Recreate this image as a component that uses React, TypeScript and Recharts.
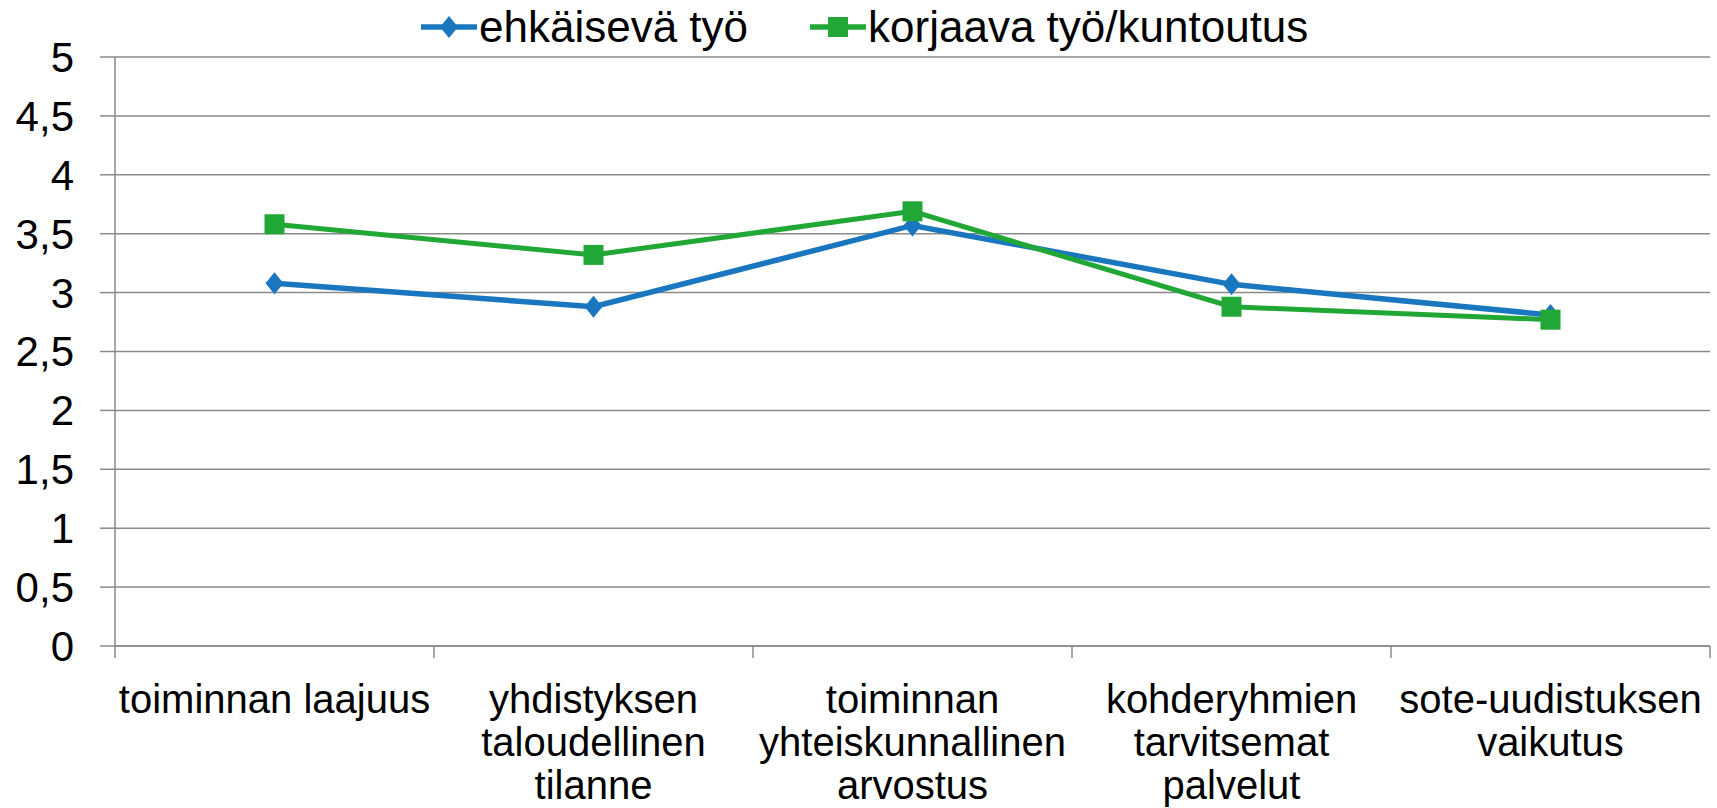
import React from 'react'
import { LineChart, Line, XAxis, YAxis, CartesianGrid, Legend } from "recharts";

const categories = [
    "toiminnan laajuus",
    "yhdistyksen taloudellinen tilanne",
    "toiminnan yhteiskunnallinen arvostus",
    "kohderyhmien tarvitsemat palvelut",
    "sote-uudistuksen vaikutus",
];
const labelLines = [
    ["toiminnan laajuus"],
    ["yhdistyksen", "taloudellinen", "tilanne"],
    ["toiminnan", "yhteiskunnallinen", "arvostus"],
    ["kohderyhmien", "tarvitsemat", "palvelut"],
    ["sote-uudistuksen", "vaikutus"],
];
const ehkaiseva = [3.08, 2.88, 3.57, 3.07, 2.81];
const korjaava = [3.58, 3.32, 3.69, 2.88, 2.77];
const yTicks = [0, 0.5, 1, 1.5, 2, 2.5, 3, 3.5, 4, 4.5, 5];

const BLUE = "#1a77bf";
const GREEN = "#21a735";
const GRID = "#8a8a8a";
const FONT = '"Liberation Sans", Arial, sans-serif';

const W = 1717;
const H = 808;
const Y_W = 115;
const RIGHT = 7;
const BAND = (W - Y_W - RIGHT) / categories.length;

const data = categories.map((name, i) => ({
    name,
    ehkaiseva: ehkaiseva[i],
    korjaava: korjaava[i],
}));

function Diamond({ cx, cy }: any) {
    if (cx == null || cy == null) return null;
    return <path d={`M${cx},${cy - 11} L${cx + 9},${cy} L${cx},${cy + 11} L${cx - 9},${cy} Z`} fill={BLUE} />;
}

function Square({ cx, cy }: any) {
    if (cx == null || cy == null) return null;
    return <rect x={cx - 10} y={cy - 10} width={20} height={20} fill={GREEN} />;
}

function CategoryTick({ x, y, payload, index }: any) {
    const lines = labelLines[index] || [payload.value];
    const last = index === categories.length - 1;
    return (
        <g>
            <line x1={x - BAND / 2} x2={x - BAND / 2} y1={y} y2={y + 12} stroke={GRID} strokeWidth={1.5} />
            {last && <line x1={x + BAND / 2} x2={x + BAND / 2} y1={y} y2={y + 12} stroke={GRID} strokeWidth={1.5} />}
            <text x={x} y={y + 67} textAnchor="middle" fontSize={40} fontFamily={FONT} fill="#000">
                {lines.map((l: string, i: number) => (
                    <tspan key={i} x={x} dy={i === 0 ? 0 : 43}>{l}</tspan>
                ))}
            </text>
        </g>
    );
}

function LegendContent() {
    const item = (label: string, color: string, square: boolean) => (
        <div style={{ display: "flex", alignItems: "center" }}>
            <svg width={58} height={30}>
                <line x1={0} x2={56} y1={15} y2={15} stroke={color} strokeWidth={5.5} />
                {square
                    ? <rect x={18} y={5} width={20} height={20} fill={color} />
                    : <path d="M28,4 L37,15 L28,26 L19,15 Z" fill={color} />}
            </svg>
            <span style={{ fontSize: 44, lineHeight: "54px", fontFamily: FONT, color: "#000" }}>{label}</span>
        </div>
    );
    return (
        <div style={{ display: "flex", gap: 62, whiteSpace: "nowrap" }}>
            {item("ehkäisevä työ", BLUE, false)}
            {item("korjaava työ/kuntoutus", GREEN, true)}
        </div>
    );
}

function App() {
    return (
        <div style={{ position: "absolute", left: 0, top: 0, background: "#fff" }}>
            <LineChart width={W} height={H} data={data} margin={{ top: 57, right: RIGHT, bottom: 0, left: 0 }}>
                <CartesianGrid horizontal vertical={false} stroke={GRID} strokeWidth={1.5} />
                <XAxis
                    dataKey="name"
                    height={162}
                    interval={0}
                    padding={{ left: BAND / 2, right: BAND / 2 }}
                    tickSize={0}
                    tickMargin={0}
                    tickLine={false}
                    axisLine={{ stroke: GRID, strokeWidth: 1.5 }}
                    tick={<CategoryTick />}
                />
                <YAxis
                    width={Y_W}
                    domain={[0, 5]}
                    ticks={yTicks}
                    interval={0}
                    tickSize={15}
                    tickMargin={26}
                    tickLine={{ stroke: GRID, strokeWidth: 1.5 }}
                    axisLine={{ stroke: GRID, strokeWidth: 1.5 }}
                    tickFormatter={(v: number) => String(v).replace(".", ",")}
                    tick={{ fontSize: 42, fontFamily: FONT, fill: "#000" }}
                />
                <Legend
                    layout="vertical"
                    verticalAlign="middle"
                    align="center"
                    wrapperStyle={{ top: 0, left: 421, width: "auto" }}
                    content={<LegendContent />}
                />
                <Line
                    type="linear"
                    dataKey="ehkaiseva"
                    name="ehkäisevä työ"
                    stroke={BLUE}
                    strokeWidth={5.5}
                    dot={<Diamond />}
                    activeDot={false}
                    isAnimationActive={false}
                />
                <Line
                    type="linear"
                    dataKey="korjaava"
                    name="korjaava työ/kuntoutus"
                    stroke={GREEN}
                    strokeWidth={5}
                    dot={<Square />}
                    activeDot={false}
                    isAnimationActive={false}
                />
            </LineChart>
        </div>
    )
}

export default App
